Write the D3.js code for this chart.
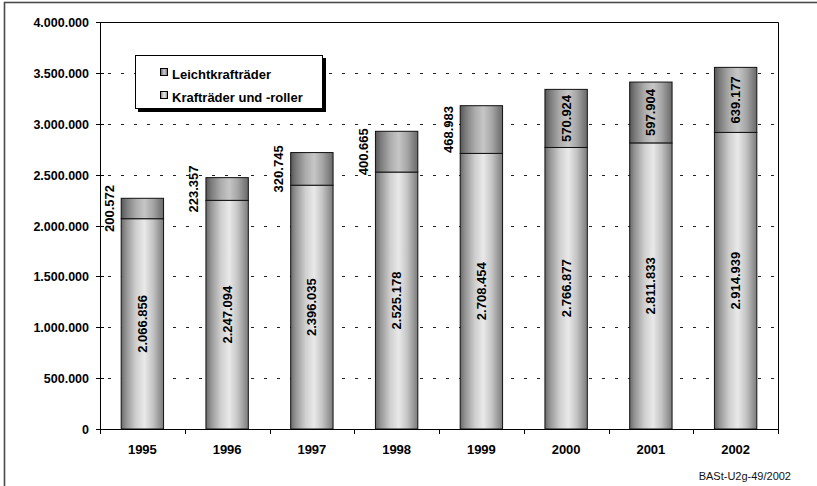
<!DOCTYPE html>
<html>
<head>
<meta charset="utf-8">
<script src="https://cdn.jsdelivr.net/npm/d3@7"></script>
<style>
  html, body { margin: 0; padding: 0; background: #fff; }
  svg { display: block; font-family: "Liberation Sans", Arial, sans-serif; }
</style>
</head>
<body>
<svg id="chart" width="817" height="486"></svg>
<script>
// Bestand an Krafträdern in Deutschland, 1995–2002
const years = ["1995", "1996", "1997", "1998", "1999", "2000", "2001", "2002"];
const kraftraeder = [2066856, 2247094, 2396035, 2525178, 2708454, 2766877, 2811833, 2914939];
const leichtkraftraeder = [200572, 223357, 320745, 400665, 468983, 570924, 597904, 639177];
const seriesNames = ["Leichtkrafträder", "Krafträder und -roller"];
const yTicks = [0, 500000, 1000000, 1500000, 2000000, 2500000, 3000000, 3500000, 4000000];
const sourceNote = "BASt-U2g-49/2002";

const de = d3.formatLocale({ decimal: ",", thousands: ".", grouping: [3], currency: ["", " €"] });
const fmt = de.format(",d");

const svg = d3.select("#chart");
const margin = { left: 100, top: 22, right: 39, bottom: 57 };
const W = 817, H = 486;
const plotW = W - margin.left - margin.right;
const plotH = H - margin.top - margin.bottom;

// outer frame of the figure
svg.append("rect")
  .attr("x", 4.5).attr("y", 2.5)
  .attr("width", 840).attr("height", 520)
  .attr("fill", "none").attr("stroke", "#4a4a4a").attr("stroke-width", 1.6);

// cylinder-style shading for the two series
const defs = svg.append("defs");
function shade(id, stops) {
  const g = defs.append("linearGradient").attr("id", id)
    .attr("x1", 0).attr("x2", 1).attr("y1", 0).attr("y2", 0);
  stops.forEach(([o, c]) => g.append("stop").attr("offset", o).attr("stop-color", c));
}
shade("gradBottom", [[0, "#6a6a6a"], [0.12, "#959595"], [0.35, "#cfcfcf"], [0.55, "#e9e9e9"], [0.75, "#c4c4c4"], [0.92, "#939393"], [1, "#7c7c7c"]]);
shade("gradTop", [[0, "#565656"], [0.12, "#7a7a7a"], [0.35, "#acacac"], [0.55, "#c6c6c6"], [0.75, "#a6a6a6"], [0.92, "#7c7c7c"], [1, "#6a6a6a"]]);

const g = svg.append("g").attr("transform", `translate(${margin.left},${margin.top})`);

const x = d3.scaleBand().domain(years).range([0, plotW]).paddingInner(0.5).paddingOuter(0.25);
const y = d3.scaleLinear().domain([0, 4000000]).range([plotH, 0]);

// dashed gridlines
g.append("g").selectAll("line")
  .data(yTicks.filter(t => t > 0 && t < 4000000))
  .join("line")
  .attr("x1", 0).attr("x2", plotW)
  .attr("y1", d => Math.round(y(d)) + 0.5).attr("y2", d => Math.round(y(d)) + 0.5)
  .attr("stroke", "#222").attr("stroke-width", 1)
  .attr("stroke-dasharray", "3,10").attr("stroke-dashoffset", -8);

// plot frame (top and right)
g.append("path")
  .attr("d", `M0.5,0.5H${plotW + 0.5}V${plotH}`)
  .attr("fill", "none").attr("stroke", "#000").attr("stroke-width", 1);

// bars
const data = years.map((yr, i) => ({ year: yr, base: kraftraeder[i], top: leichtkraftraeder[i] }));
const bars = g.append("g").selectAll("g").data(data).join("g");

bars.append("rect")
  .attr("x", d => x(d.year)).attr("width", x.bandwidth())
  .attr("y", d => y(d.base)).attr("height", d => y(0) - y(d.base))
  .attr("fill", "url(#gradBottom)").attr("stroke", "#111").attr("stroke-width", 1);

bars.append("rect")
  .attr("x", d => x(d.year)).attr("width", x.bandwidth())
  .attr("y", d => y(d.base + d.top)).attr("height", d => y(d.base) - y(d.base + d.top))
  .attr("fill", "url(#gradTop)").attr("stroke", "#111").attr("stroke-width", 1);

// value labels, rotated
const labelFont = 13;
bars.append("text")
  .attr("transform", d => `translate(${x(d.year) + x.bandwidth() / 2 + 4.5},${(y(0) + y(d.base)) / 2}) rotate(-90)`)
  .attr("text-anchor", "middle")
  .attr("font-size", labelFont).attr("font-weight", "bold").attr("fill", "#000")
  .text(d => fmt(d.base));

bars.append("text")
  .attr("font-size", labelFont).attr("font-weight", "bold").attr("fill", "#000")
  .attr("text-anchor", "middle")
  .text(d => fmt(d.top))
  .attr("transform", function (d) {
    const len = this.getComputedTextLength();
    const segH = y(d.base) - y(d.base + d.top);
    const cy = (y(d.base) + y(d.base + d.top)) / 2;
    const cx = segH < len + 8 ? x(d.year) - 12 + 4.5 : x(d.year) + x.bandwidth() / 2 + 4.5;
    return `translate(${cx},${cy}) rotate(-90)`;
  });

// y axis
const yAxis = g.append("g");
yAxis.append("line").attr("x1", 0.5).attr("x2", 0.5).attr("y1", 0).attr("y2", plotH)
  .attr("stroke", "#000");
const yt = yAxis.selectAll("g.tick").data(yTicks).join("g")
  .attr("transform", d => `translate(0,${Math.round(y(d)) + 0.5})`);
yt.append("line").attr("x1", -4).attr("x2", 4).attr("stroke", "#000");
yt.append("text")
  .attr("x", -11).attr("dy", "0.36em")
  .attr("text-anchor", "end")
  .attr("font-size", 12.5).attr("font-weight", "bold")
  .text(d => fmt(d));

// x axis
const xAxis = g.append("g").attr("transform", `translate(0,${plotH})`);
xAxis.append("line").attr("x1", 0).attr("x2", plotW + 0.5).attr("y1", 0.5).attr("y2", 0.5).attr("stroke", "#000");
const step = x.step();
xAxis.selectAll("line.tick").data(d3.range(years.length + 1)).join("line")
  .attr("class", "tick")
  .attr("x1", i => Math.round(i * step) + 0.5).attr("x2", i => Math.round(i * step) + 0.5)
  .attr("y1", 0).attr("y2", 5).attr("stroke", "#000");
xAxis.selectAll("text").data(years).join("text")
  .attr("x", d => x(d) + x.bandwidth() / 2).attr("y", 25)
  .attr("text-anchor", "middle")
  .attr("font-size", 13).attr("font-weight", "bold")
  .text(d => d);

// legend
const lg = svg.append("g").attr("transform", "translate(135,55)");
lg.append("rect").attr("x", 3).attr("y", 3).attr("width", 188).attr("height", 54).attr("fill", "#000");
lg.append("rect").attr("x", 0.5).attr("y", 0.5).attr("width", 187).attr("height", 53)
  .attr("fill", "#fff").attr("stroke", "#000");
const legendFills = ["url(#gradTop)", "url(#gradBottom)"];
seriesNames.forEach((name, i) => {
  const row = lg.append("g").attr("transform", `translate(0,${19 + i * 23})`);
  row.append("rect").attr("x", 25.5).attr("y", -5.5).attr("width", 7).attr("height", 7)
    .attr("fill", legendFills[i]).attr("stroke", "#000");
  row.append("text").attr("x", 37).attr("y", 4.5)
    .attr("font-size", 13).attr("font-weight", "bold").text(name);
});

// source note
svg.append("text").attr("x", 791).attr("y", 480)
  .attr("text-anchor", "end").attr("font-size", 11).attr("fill", "#111")
  .text(sourceNote);
</script>
</body>
</html>
